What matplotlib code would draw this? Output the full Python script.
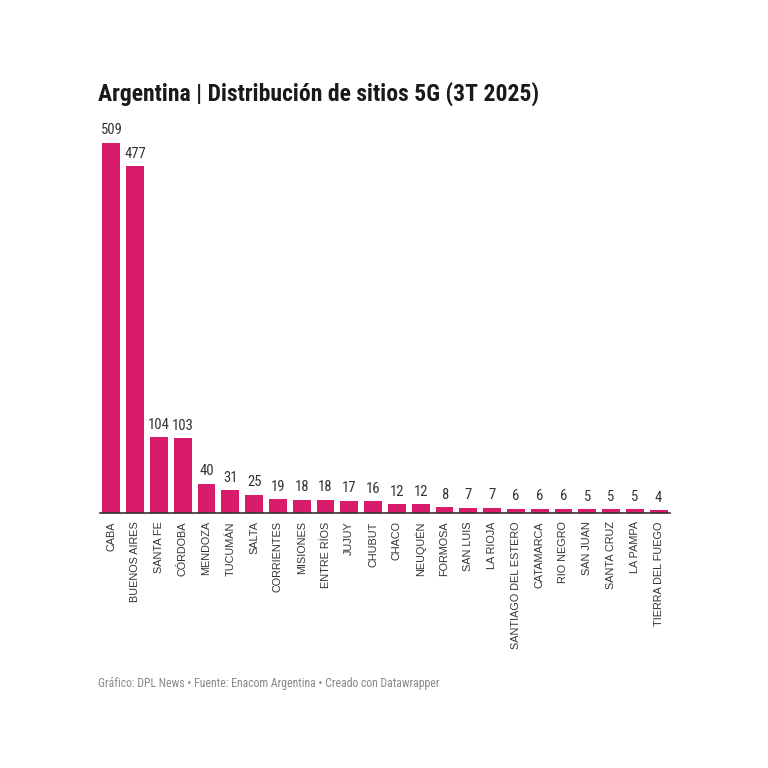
import matplotlib
matplotlib.use("Agg")
import matplotlib.pyplot as plt

provinces = ["CABA", "BUENOS AIRES", "SANTA FE", "CÓRDOBA", "MENDOZA", "TUCUMÁN", "SALTA",
             "CORRIENTES", "MISIONES", "ENTRE RÍOS", "JUJUY", "CHUBUT", "CHACO", "NEUQUÉN",
             "FORMOSA", "SAN LUIS", "LA RIOJA", "SANTIAGO DEL ESTERO", "CATAMARCA", "RIO NEGRO",
             "SAN JUAN", "SANTA CRUZ", "LA PAMPA", "TIERRA DEL FUEGO"]
sites = [509, 477, 104, 103, 40, 31, 25, 19, 18, 18, 17, 16, 12, 12, 8, 7, 7, 6, 6, 6, 5, 5, 5, 4]

title = "Argentina | Distribución de sitios 5G (3T 2025)"
footer = "Gráfico: DPL News • Fuente: Enacom Argentina • Creado con Datawrapper"

W = H = 768
fig = plt.figure(figsize=(W/100, H/100), dpi=100)
fig.patch.set_facecolor("white")
ax = fig.add_axes([100/W, 1-513/H, 570/W, 370/H])

n = len(provinces)
x = list(range(n))
ax.bar(x, sites, width=0.75, color="#d81b6a")
ax.set_xlim(-0.48, n - 1 + 0.48)
ax.set_ylim(0, max(sites))

for xi, v in zip(x, sites):
    ax.annotate(str(v), (xi, v), xytext=(0, 4), textcoords="offset points",
                ha="center", va="bottom", fontsize=10.5, family="Roboto Condensed",
                color="#333333", annotation_clip=False)

ax.set_xticks(x)
ax.set_xticklabels(provinces, rotation=90, fontsize=7.8, family="Liberation Sans", color="#333333")
ax.tick_params(axis="x", length=0, pad=6)
ax.set_yticks([])
for s in ["top", "right", "left"]:
    ax.spines[s].set_visible(False)
ax.spines["bottom"].set_color("#333333")
ax.spines["bottom"].set_linewidth(1.2)

fig.text(98/W, 1-94/H, title, fontsize=17, fontweight="bold", family="Roboto Condensed",
         color="#1a1a1a", va="center", ha="left")
fig.text(98/W, 1-683/H, footer, fontsize=8.5, family="Roboto Condensed", color="#888888",
         va="center", ha="left")

fig.savefig("out.png", dpi=100)
